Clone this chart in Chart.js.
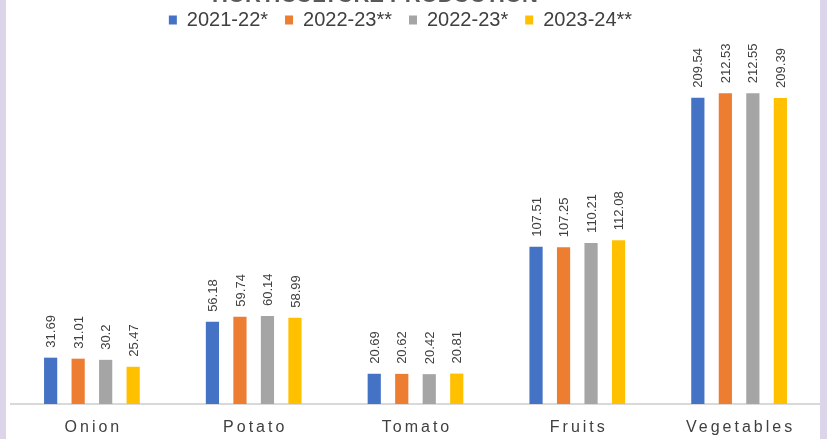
<!DOCTYPE html>
<html>
<head>
<meta charset="utf-8">
<script src="https://cdn.jsdelivr.net/npm/chart.js@4"></script>
<style>
html,body{margin:0;padding:0;background:#fff;}
canvas{display:block;}
</style>
</head>
<body>
<canvas id="c" width="827" height="439"></canvas>
<script>
const categories = ['Onion', 'Potato', 'Tomato', 'Fruits', 'Vegetables'];
const seriesNames = ['2021-22*', '2022-23**', '2022-23*', '2023-24**'];
const s2021_22 = [31.69, 56.18, 20.69, 107.51, 209.54];
const s2022_23a = [31.01, 59.74, 20.62, 107.25, 212.53];
const s2022_23b = [30.2, 60.14, 20.42, 110.21, 212.55];
const s2023_24 = [25.47, 58.99, 20.81, 112.08, 209.39];
const colors = ['#4472C4', '#ED7D31', '#A5A5A5', '#FFC000'];
const titleText = 'HORTICULTURE PRODUCTION';

const bgPlugin = {
  id: 'bg',
  afterLayout(chart) {
    const lg = chart.legend;
    if (lg) { lg.left -= 15; lg.right -= 15; }
  },
  beforeDraw(chart) {
    const ctx = chart.ctx;
    ctx.save();
    ctx.fillStyle = '#ffffff';
    ctx.fillRect(0, 0, chart.width, chart.height);
    ctx.fillStyle = '#DCD5EA';
    ctx.fillRect(0, 0, 6, chart.height);
    ctx.fillRect(820, 0, chart.width - 820, chart.height);
    ctx.fillStyle = '#595959';
    ctx.font = 'bold 22px "Liberation Sans", Arial, sans-serif';
    ctx.textAlign = 'center';
    ctx.textBaseline = 'alphabetic';
    ctx.fillText(titleText, 375, 2);
    ctx.restore();
  }
};

const labelPlugin = {
  id: 'labels',
  afterDatasetsDraw(chart) {
    const ctx = chart.ctx;
    ctx.save();
    ctx.font = '13px "Liberation Sans", Arial, sans-serif';
    ctx.fillStyle = '#404040';
    chart.data.datasets.forEach((ds, i) => {
      const meta = chart.getDatasetMeta(i);
      meta.data.forEach((el, j) => {
        ctx.save();
        ctx.translate(el.x + 1, el.y - 10);
        ctx.rotate(-Math.PI / 2);
        ctx.textAlign = 'left';
        ctx.textBaseline = 'middle';
        ctx.fillText(String(ds.data[j]), 0, 0);
        ctx.restore();
      });
    });
    const xs = chart.scales.x;
    ctx.font = '16px "Liberation Sans", Arial, sans-serif';
    ctx.fillStyle = '#404040';
    ctx.textAlign = 'center';
    ctx.textBaseline = 'middle';
    try { ctx.letterSpacing = '3px'; } catch (e) {}
    categories.forEach((c, i) => {
      ctx.fillText(c, xs.getPixelForValue(i) + 1.5, 428);
    });
    ctx.restore();
  }
};

new Chart(document.getElementById('c'), {
  type: 'bar',
  data: {
    labels: categories,
    datasets: [
      { label: seriesNames[0], data: s2021_22, backgroundColor: colors[0] },
      { label: seriesNames[1], data: s2022_23a, backgroundColor: colors[1] },
      { label: seriesNames[2], data: s2022_23b, backgroundColor: colors[2] },
      { label: seriesNames[3], data: s2023_24, backgroundColor: colors[3] }
    ]
  },
  options: {
    responsive: false,
    animation: false,
    devicePixelRatio: 1,
    layout: { padding: { left: 11, right: 7, top: -7, bottom: 35 } },
    datasets: { bar: { categoryPercentage: 0.68, barPercentage: 0.48 } },
    plugins: {
      legend: {
        display: true,
        position: 'top',
        labels: {
          boxWidth: 8,
          boxHeight: 9,
          padding: 17,
          color: '#404040',
          font: { family: '"Liberation Sans", Arial, sans-serif', size: 20 }
        }
      },
      tooltip: { enabled: false },
      title: { display: false }
    },
    scales: {
      x: {
        display: true,
        grid: { display: false, drawTicks: false },
        border: { display: true, color: '#D9D9D9', width: 2 },
        ticks: { display: false }
      },
      y: {
        display: false,
        min: 0,
        max: 249
      }
    }
  },
  plugins: [bgPlugin, labelPlugin]
});
</script>
</body>
</html>
